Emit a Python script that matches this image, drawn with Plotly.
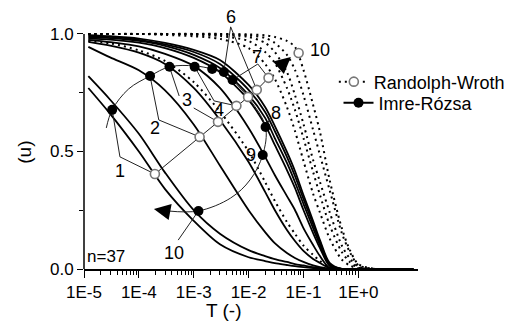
import math
import plotly.graph_objects as go

FONT = "Liberation Sans, Arial, sans-serif"

# ---- data ----
T = [1.2e-5, 3e-5, 1e-4, 3e-4, 1e-3, 3e-3, 0.01, 0.02, 0.03, 0.05,
     0.07, 0.1, 0.15, 0.2, 0.3, 0.5, 0.7, 1.0, 2.0, 10.0]

imre_1 = [0.77, 0.66, 0.50, 0.34, 0.205, 0.105, 0.05, 0.034, 0.025, 0.017, 0.012, 0.008, 0.004, 0.002, 0, 0, 0, 0, 0, 0]
imre_2 = [0.82, 0.72, 0.575, 0.41, 0.25, 0.15, 0.08, 0.055, 0.042, 0.03, 0.021, 0.015, 0.008, 0.004, 0.001, 0, 0, 0, 0, 0]
imre_3 = [0.945, 0.90, 0.845, 0.76, 0.615, 0.44, 0.25, 0.157, 0.11, 0.068, 0.047, 0.03, 0.015, 0.008, 0.001, 0, 0, 0, 0, 0]
imre_4 = [0.966, 0.95, 0.92, 0.872, 0.77, 0.634, 0.455, 0.328, 0.251, 0.166, 0.119, 0.077, 0.043, 0.026, 0.004, 0, 0, 0, 0, 0]
imre_5 = [0.975, 0.965, 0.947, 0.915, 0.864, 0.77, 0.60, 0.477, 0.40, 0.31, 0.251, 0.174, 0.102, 0.055, 0.004, 0, 0, 0, 0, 0]
imre_6 = [0.98, 0.976, 0.963, 0.94, 0.898, 0.838, 0.719, 0.613, 0.528, 0.421, 0.345, 0.251, 0.153, 0.089, 0.013, 0, 0, 0, 0, 0]
imre_7 = [0.985, 0.982, 0.97, 0.949, 0.911, 0.855, 0.74, 0.643, 0.557, 0.451, 0.37, 0.277, 0.174, 0.102, 0.017, 0, 0, 0, 0, 0]
imre_8 = [0.99, 0.987, 0.975, 0.955, 0.923, 0.872, 0.762, 0.668, 0.587, 0.477, 0.396, 0.298, 0.191, 0.115, 0.021, 0, 0, 0, 0, 0]
imre_9 = [0.995, 0.99, 0.98, 0.962, 0.932, 0.889, 0.783, 0.689, 0.609, 0.498, 0.417, 0.315, 0.204, 0.123, 0.026, 0, 0, 0, 0, 0]

rw_1 = [1, 1, 1, 1, 1, 1, 0.998, 0.994, 0.987, 0.97, 0.945, 0.847, 0.698, 0.583, 0.379, 0.174, 0.081, 0.021, 0, 0]
rw_2 = [1, 1, 1, 1, 1, 1, 0.994, 0.983, 0.962, 0.911, 0.847, 0.74, 0.591, 0.485, 0.336, 0.153, 0.072, 0.017, 0, 0]
rw_3 = [1, 1, 1, 1, 1, 0.996, 0.987, 0.962, 0.923, 0.838, 0.74, 0.617, 0.464, 0.37, 0.242, 0.1, 0.045, 0.011, 0, 0]
rw_4 = [1, 1, 1, 1, 0.996, 0.991, 0.97, 0.923, 0.877, 0.77, 0.677, 0.557, 0.413, 0.315, 0.187, 0.072, 0.03, 0.006, 0, 0]
rw_5 = [1, 1, 1, 0.996, 0.99, 0.979, 0.94, 0.872, 0.809, 0.689, 0.587, 0.46, 0.32, 0.24, 0.13, 0.04, 0.015, 0.003, 0, 0]
rw_6 = [0.97, 0.96, 0.93, 0.885, 0.795, 0.67, 0.50, 0.37, 0.29, 0.20, 0.15, 0.10, 0.06, 0.035, 0.006, 0, 0, 0, 0, 0]

# characteristic points
ir_pts_T = [3.26e-5, 1.6e-4, 3.61e-4, 1.04e-3, 2.17e-3, 3.54e-3, 5.1e-3, 0.0204, 0.0181, 1.22e-3]
ir_pts_u = [0.677, 0.821, 0.86, 0.86, 0.851, 0.838, 0.804, 0.604, 0.485, 0.247]
rw_pts_T = [1.96e-4, 1.28e-3, 2.77e-3, 6.0e-3, 9.8e-3, 0.0141, 0.0231, 0.0817]
rw_pts_u = [0.404, 0.562, 0.626, 0.694, 0.732, 0.762, 0.813, 0.919]

# guide arc through the Imre-Rózsa points
arc_T = [2.55e-5, 3.26e-5, 6.52e-5, 1.6e-4, 3.61e-4, 1.04e-3, 2.17e-3, 3.54e-3, 5.1e-3,
         0.01064, 0.0204, 0.0181, 0.01064, 4.71e-3, 1.22e-3, 3.33e-4]
arc_u = [0.6, 0.677, 0.766, 0.821, 0.86, 0.864, 0.851, 0.838, 0.804,
         0.719, 0.604, 0.485, 0.379, 0.302, 0.247, 0.247]

# leader lines from labels to points
lead_T = [3.26e-5, 4.52e-5, 1.96e-4, None,
          1.6e-4, 2.31e-4, 1.28e-3, None,
          3.61e-4, 5.43e-4, None, 1.0e-3, 2.77e-3, None,
          1.04e-3, 2.35e-3, 6.0e-3, None,
          3.54e-3, 4.71e-3, 0.0141, None,
          5.1e-3, 0.01473, 0.0231, None,
          0.025, 0.0204, None,
          5.21e-4, 1.22e-3]
lead_u = [0.677, 0.477, 0.404, None,
          0.821, 0.634, 0.562, None,
          0.86, 0.736, None, 0.685, 0.626, None,
          0.86, 0.715, 0.694, None,
          0.838, 1.03, 0.762, None,
          0.804, 0.872, 0.813, None,
          0.643, 0.604, None,
          0.123, 0.247]

label_text = ["1", "2", "3", "4", "6", "7", "8", "9", "10", "10"]
label_T = [4.52e-5, 1.96e-4, 7.5e-4, 2.88e-3, 4.71e-3, 0.0141, 0.0319, 0.01107, 0.2, 4.43e-4]
label_u = [0.417, 0.60, 0.719, 0.677, 1.072, 0.902, 0.664, 0.485, 0.932, 0.068]

x_tick_vals = [1e-5, 1e-4, 1e-3, 1e-2, 1e-1, 1]
x_tick_text = ["1E-5", "1E-4", "1E-3", "1E-2", "1E-1", "1E+0"]
y_tick_vals = [0, 0.5, 1.0]
y_tick_text = ["0.0", "0.5", "1.0"]

imre_curves = [imre_1, imre_2, imre_3, imre_4, imre_5, imre_6, imre_7, imre_8, imre_9]
rw_curves = [rw_1, rw_2, rw_3, rw_4, rw_5, rw_6]

fig = go.Figure()
DOT = "2px,4px"

for c in rw_curves:
    fig.add_trace(go.Scatter(x=T, y=c, mode="lines", line=dict(color="black", width=2, dash=DOT, shape="spline", smoothing=0.8),
                             showlegend=False, hoverinfo="skip"))
for c in imre_curves:
    fig.add_trace(go.Scatter(x=T, y=c, mode="lines", line=dict(color="black", width=1.8, shape="spline", smoothing=0.8),
                             showlegend=False, hoverinfo="skip"))

fig.add_trace(go.Scatter(x=arc_T, y=arc_u, mode="lines", line=dict(color="#222", width=1, shape="spline", smoothing=1.0),
                         showlegend=False, hoverinfo="skip"))
fig.add_trace(go.Scatter(x=rw_pts_T[:7], y=rw_pts_u[:7], mode="lines", line=dict(color="#222", width=1),
                         showlegend=False, hoverinfo="skip"))
fig.add_trace(go.Scatter(x=lead_T, y=lead_u, mode="lines", line=dict(color="#222", width=1),
                         showlegend=False, hoverinfo="skip", connectgaps=False))

fig.add_trace(go.Scatter(x=ir_pts_T, y=ir_pts_u, mode="markers",
                         marker=dict(symbol="circle", size=10, color="black"), showlegend=False, hoverinfo="skip"))
fig.add_trace(go.Scatter(x=rw_pts_T, y=rw_pts_u, mode="markers",
                         marker=dict(symbol="circle", size=9, color="white", line=dict(color="#777", width=1.6)),
                         showlegend=False, hoverinfo="skip"))

# legend entries (each in its own legend box)
fig.add_trace(go.Scatter(x=[None], y=[None], mode="lines+markers", name="Randolph-Wroth", legend="legend",
                         line=dict(color="black", width=2, dash=DOT),
                         marker=dict(symbol="circle", size=9, color="white", line=dict(color="#777", width=1.6))))
fig.add_trace(go.Scatter(x=[None], y=[None], mode="lines+markers", name="Imre-Rózsa", legend="legend2",
                         line=dict(color="black", width=2),
                         marker=dict(symbol="circle", size=10, color="black")))

ann = []
for t, tx, u in zip(label_text, label_T, label_u):
    ann.append(dict(x=math.log10(tx), y=u, xref="x", yref="y", text=t, showarrow=False,
                    font=dict(family=FONT, size=18, color="black"), xanchor="center", yanchor="middle"))
ann.append(dict(x=math.log10(2.55e-5), y=0.055, xref="x", yref="y", text="n=37", showarrow=False,
                font=dict(family=FONT, size=17, color="black"), xanchor="center", yanchor="middle"))
# arrow heads
ann.append(dict(x=math.log10(1.88e-4), y=0.255, ax=math.log10(3.61e-4), ay=0.243, xref="x", yref="y",
                axref="x", ayref="y", text="", showarrow=True, arrowhead=2, arrowsize=1.5, arrowwidth=2.2,
                arrowcolor="black"))
ann.append(dict(x=math.log10(0.0589), y=0.902, ax=math.log10(0.0347), ay=0.855, xref="x", yref="y",
                axref="x", ayref="y", text="", showarrow=True, arrowhead=2, arrowsize=1.5, arrowwidth=2.2,
                arrowcolor="black"))
# axis titles
ann.append(dict(x=0.419, y=-0.153, xref="paper", yref="paper", text="T (-)", showarrow=False,
                font=dict(family=FONT, size=19, color="black"), xanchor="center", yanchor="middle"))
ann.append(dict(x=-0.177, y=0.437, xref="paper", yref="paper", text="(u)", showarrow=False, textangle=-90,
                font=dict(family=FONT, size=19, color="black"), xanchor="center", yanchor="middle"))

minor_x = [m * 10 ** e for e in range(-5, 0) for m in range(2, 10)]

legend_font = dict(family=FONT, size=18, color="black")
fig.update_layout(
    width=511, height=327,
    margin=dict(l=84, r=83, t=1, b=58),
    paper_bgcolor="white", plot_bgcolor="white",
    font=dict(family=FONT, size=17, color="black"),
    annotations=ann,
    showlegend=True,
    legend=dict(x=0.748, y=0.698, xanchor="left", yanchor="middle", bgcolor="rgba(0,0,0,0)",
                font=legend_font, itemwidth=30),
    legend2=dict(x=0.762, y=0.619, xanchor="left", yanchor="middle", bgcolor="rgba(0,0,0,0)",
                 font=legend_font, itemwidth=30),
    shapes=[dict(type="line", xref="paper", yref="y", x0=0, x1=0, y0=0, y1=1.0,
                 line=dict(color="black", width=1.5))],
    xaxis=dict(type="log", range=[-5, 1.088], showgrid=False, zeroline=False,
               showline=True, linecolor="black", linewidth=1.5,
               tickmode="array", tickvals=x_tick_vals, ticktext=x_tick_text,
               ticks="outside", ticklen=7, tickwidth=1.3, tickcolor="black",
               tickfont=dict(family=FONT, size=17, color="black"),
               minor=dict(tickmode="array", tickvals=minor_x, ticks="outside", ticklen=4,
                          tickwidth=1, tickcolor="black", showgrid=False)),
    yaxis=dict(range=[0, 1.14], showgrid=False, zeroline=False, showline=False,
               tickmode="array", tickvals=y_tick_vals, ticktext=y_tick_text,
               ticks="outside", ticklen=6, tickwidth=1.3, tickcolor="black",
               tickfont=dict(family=FONT, size=17, color="black"),
               minor=dict(tickmode="array", tickvals=[0.25, 0.75], ticks="outside", ticklen=4,
                          tickwidth=1, tickcolor="black", showgrid=False)),
)

fig.write_html("out.html", config={"displayModeBar": False},
               post_script="document.body.style.margin='0';document.body.style.overflow='hidden';")
